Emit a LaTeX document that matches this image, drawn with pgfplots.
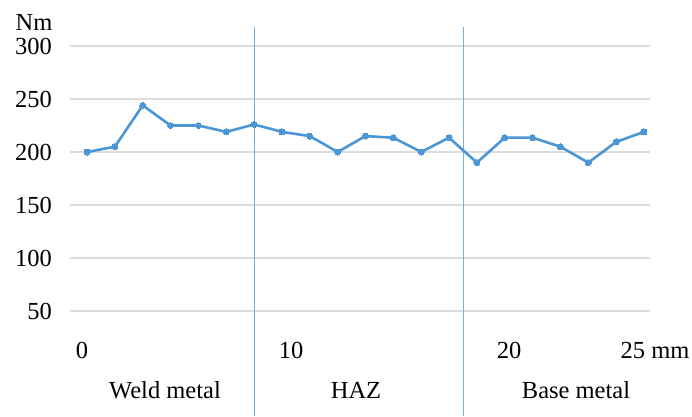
\documentclass[border=0pt]{standalone}
\usepackage{pgfplots}
\pgfplotsset{compat=1.18}
\usepackage{fontspec}
\setmainfont{Liberation Serif}
\definecolor{xlblue}{RGB}{75,150,212}
\definecolor{vline}{RGB}{120,175,220}
\definecolor{gridc}{RGB}{220,220,220}
\begin{document}
\begin{tikzpicture}[x=1pt,y=1pt]
\path[use as bounding box] (0,0) rectangle (692,416);
\begin{axis}[
  at={(70pt,105pt)}, anchor=south west,
  scale only axis, width=580pt, height=265pt,
  xmin=-0.763, xmax=25.27, ymin=50, ymax=300,
  ytick={50,100,150,200,250,300},
  xtick=\empty,
  ymajorgrids, grid style={gridc, line width=1.2pt},
  axis line style={draw=none},
  major tick length=0pt,
  yticklabel style={anchor=east, inner sep=0pt, xshift=-18pt, font=\fontsize{24.5}{28}\selectfont},
  /pgf/number format/assume math mode=true,
  clip=false,
]
\addplot[vline, line width=0.9pt] coordinates {(7.5,-49) (7.5,318)};
\addplot[vline, line width=0.9pt] coordinates {(16.875,-49) (16.875,318)};
\addplot[xlblue, line width=2.6pt, mark=*, mark size=3pt, mark options={fill=xlblue, draw=xlblue, line width=0pt}] coordinates {
(0,200) (1.25,205) (2.5,244) (3.75,225) (5,225) (6.25,219) (7.5,226)
(8.75,219) (10,215) (11.25,200) (12.5,215) (13.75,213.5) (15,200)
(16.25,213.5) (17.5,190) (18.75,213.5) (20,213.5) (21.25,205)
(22.5,190) (23.75,209.5) (25,219)};
\end{axis}
\begin{scope}[every node/.style={font=\fontsize{24.5}{28}\selectfont, inner sep=0pt, anchor=base}]
\node[text depth=0pt] at (34,385) {Nm};
\node at (82,58) {0};
\node at (291,58) {10};
\node at (509,58) {20};
\node at (655,58) {25 mm};
\node at (165,18) {Weld metal};
\node at (356,18) {HAZ};
\node at (576,18) {Base metal};
\end{scope}
\end{tikzpicture}
\end{document}
